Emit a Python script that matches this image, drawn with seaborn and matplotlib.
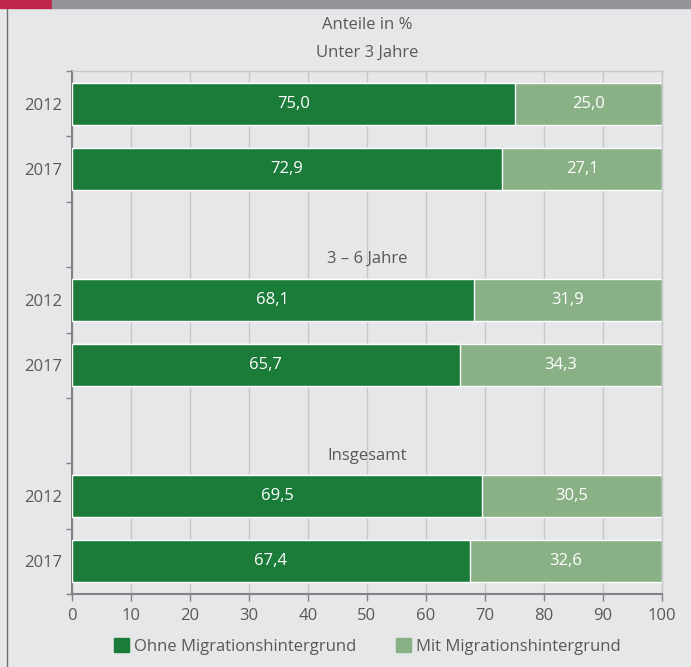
import matplotlib
matplotlib.use("Agg")
import matplotlib.pyplot as plt
import matplotlib.patches as mpatches
from matplotlib.lines import Line2D
import seaborn as sns
import pandas as pd
import numpy as np

# ---- data ----
groups = ["Unter 3 Jahre", "3 – 6 Jahre", "Insgesamt"]
years = ["2012", "2017"]
ohne = [75.0, 72.9, 68.1, 65.7, 69.5, 67.4]
mit = [25.0, 27.1, 31.9, 34.3, 30.5, 32.6]
series_names = ["Ohne Migrationshintergrund", "Mit Migrationshintergrund"]
title = "Anteile in %"

# ---- style ----
sns.set_style("white")
plt.rcParams["font.family"] = ["Open Sans", "DejaVu Sans"]

DARK = "#1b7c3a"
LIGHT = "#8ab086"
BG = "#e6e7e9"
TXT = "#58595b"
GRID = "#c6c7c9"
SPINE = "#808285"

pos = []
labels = []
for gi, g in enumerate(groups):
    for yi, y in enumerate(years):
        pos.append(gi * 3 + yi)
        labels.append(y)
total = [a + b for a, b in zip(ohne, mit)]
df = pd.DataFrame({"pos": pos, "year": labels, "ohne": ohne, "mit": mit, "total": total})

fig = plt.figure(figsize=(6.91, 6.67), dpi=100, facecolor=BG)
ax = fig.add_axes([72 / 691, 1 - 594 / 667, 590 / 691, 523 / 667])
ax.set_facecolor(BG)

sns.barplot(data=df, x="total", y="pos", orient="y", native_scale=True, width=0.64,
            color=LIGHT, saturation=1, errorbar=None, ax=ax, zorder=2)
sns.barplot(data=df, x="ohne", y="pos", orient="y", native_scale=True, width=0.64,
            color=DARK, saturation=1, errorbar=None, ax=ax, zorder=3)

ax.set_xlim(0, 100)
ax.set_ylim(7.5, -0.5)
ax.set_xlabel("")
ax.set_ylabel("")

# grid
ax.set_xticks(np.arange(0, 101, 10))
ax.xaxis.grid(True, color=GRID, lw=1, zorder=0)
ax.yaxis.grid(False)
ax.set_axisbelow(True)

ax.set_yticks(pos)
ax.set_yticklabels(labels)
ax.set_yticks(np.arange(-0.5, 7.6, 1.0), minor=True)
ax.tick_params(left=True, bottom=True, which="both")
ax.tick_params(axis="y", which="major", length=0, pad=7, labelsize=12, labelcolor=TXT)
ax.tick_params(axis="y", which="minor", length=4, width=1, color=SPINE, direction="out")
ax.tick_params(axis="x", which="major", length=5, width=1, color=SPINE, direction="out",
               labelsize=12, labelcolor=TXT, pad=5)

for s in ["left", "bottom"]:
    ax.spines[s].set_color(SPINE)
    ax.spines[s].set_linewidth(1.5)
for s in ["top", "right"]:
    ax.spines[s].set_color(GRID)
    ax.spines[s].set_linewidth(1)

# value labels
for p, a, b in zip(pos, ohne, mit):
    ax.text(a / 2, p, f"{a:.1f}".replace(".", ","), ha="center", va="center",
            color="white", fontsize=12, zorder=5)
    ax.text(a + b / 2, p, f"{b:.1f}".replace(".", ","), ha="center", va="center",
            color="white", fontsize=12, zorder=5)

# group labels
group_y = [-0.78, 2.37, 5.39]
for g, gy in zip(groups, group_y):
    ax.text(50, gy, g, ha="center", va="center", color=TXT, fontsize=12, zorder=1)

fig.text(367 / 691, 1 - 25 / 667, title, ha="center", va="center", color=TXT, fontsize=12)

# legend
handles = [mpatches.Patch(color=DARK, label=series_names[0]),
           mpatches.Patch(color=LIGHT, label=series_names[1])]
ax.legend(handles=handles, loc="center", bbox_to_anchor=(0.5, -0.1), ncol=2,
          frameon=False, fontsize=12, handlelength=0.9, handleheight=0.9,
          handletextpad=0.3, columnspacing=2.4, labelcolor=TXT)

# header bar and frame
fig.patches.append(mpatches.Rectangle((0, 1 - 8 / 667), 52 / 691, 8 / 667,
                                      transform=fig.transFigure, color="#c0264b", zorder=10))
fig.patches.append(mpatches.Rectangle((52 / 691, 1 - 8 / 667), 1 - 52 / 691, 8 / 667,
                                      transform=fig.transFigure, color="#939598", zorder=10))
fig.lines.append(Line2D([7 / 691, 7 / 691], [0, 1 - 8 / 667], transform=fig.transFigure,
                        color="#6d6e71", lw=1))

fig.savefig("out.png", dpi=100, facecolor=BG)
